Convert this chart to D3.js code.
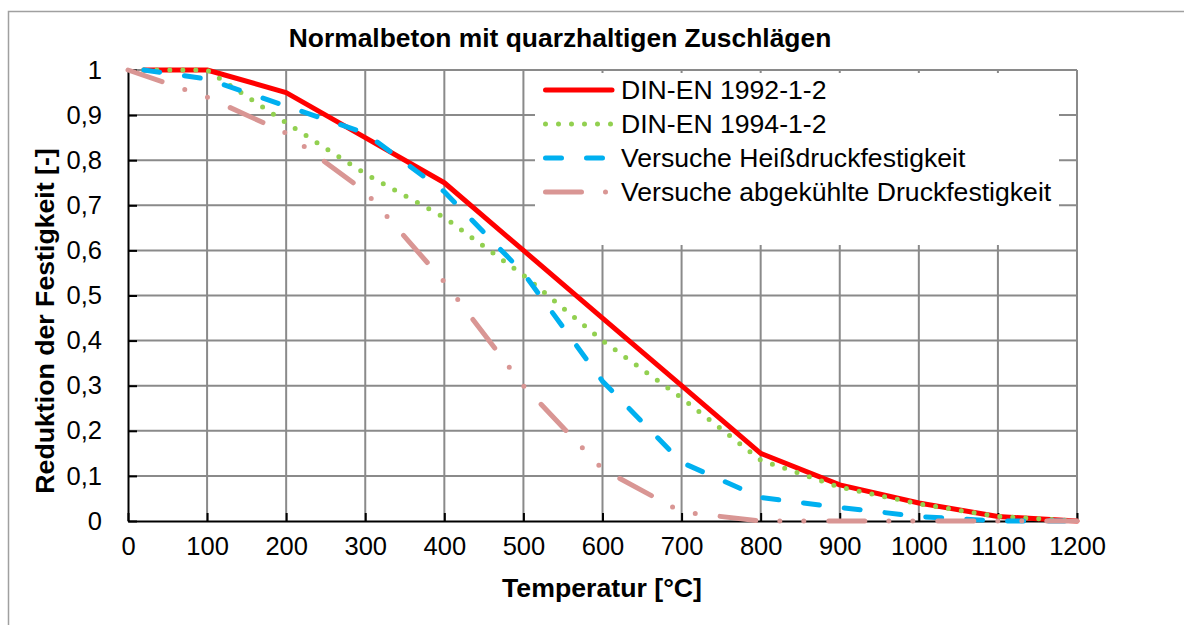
<!DOCTYPE html>
<html>
<head>
<meta charset="utf-8">
<script src="https://cdn.jsdelivr.net/npm/d3@7"></script>
<style>
  body { margin: 0; background: #fff; }
  svg { display: block; }
  text { font-family: "Liberation Sans", Arial, sans-serif; fill: #000; }
</style>
</head>
<body>
<svg id="chart" width="1184" height="625"></svg>
<script>
// ---- data ----
const chartTitle = "Normalbeton mit quarzhaltigen Zuschlägen";
const xTitle = "Temperatur [°C]";
const yTitle = "Reduktion der Festigkeit [-]";
const xTicks = [0,100,200,300,400,500,600,700,800,900,1000,1100,1200];
const yTicks = [0,0.1,0.2,0.3,0.4,0.5,0.6,0.7,0.8,0.9,1];
const yTickLabels = ["0","0,1","0,2","0,3","0,4","0,5","0,6","0,7","0,8","0,9","1"];

const seriesNames = ["DIN-EN 1992-1-2","DIN-EN 1994-1-2","Versuche Heißdruckfestigkeit","Versuche abgekühlte Druckfestigkeit"];
const tempsEN = [20,100,200,300,400,500,600,700,800,900,1000,1100,1200];
const tempsTest = [0,100,200,300,400,500,600,700,800,900,1000,1100,1200];
const din1992 = [1,1,0.95,0.85,0.75,0.60,0.45,0.30,0.15,0.08,0.04,0.01,0];
const din1994 = [1,1,0.883,0.77,0.673,0.545,0.40,0.273,0.135,0.075,0.038,0.01,0];
const hotTest = [1,0.98,0.92,0.86,0.73,0.55,0.31,0.13,0.052,0.03,0.01,0,0];
const cooledTest = [1,0.94,0.86,0.73,0.53,0.30,0.115,0.02,0,0,0,0,0];

const seriesColors = ["#ff0000","#92d050","#00b0f0","#d99694"];
const seriesDash = [null, "0 13", "16 25", "36 24 0 24 0 25"];

// ---- layout ----
const svg = d3.select("#chart");
const X0 = 128, X1 = 1077, Y0 = 521, Y1 = 70;
const x = d3.scaleLinear().domain([0,1200]).range([X0,X1]);
const y = d3.scaleLinear().domain([0,1]).range([Y0,Y1]);

// outer border
svg.append("path").attr("d", "M8.5,640 L8.5,11.5 L1200,11.5")
  .attr("fill","none").attr("stroke","#a0a0a0").attr("stroke-width",1.5);

// title
svg.append("text").attr("x",560).attr("y",47).attr("text-anchor","middle")
  .style("font-size","26.4px").style("font-weight","bold").text(chartTitle);

// gridlines
const grid = svg.append("g");
grid.selectAll(".vg").data(xTicks.filter(d=>d>0)).enter().append("line")
  .attr("x1",d=>x(d)).attr("x2",d=>x(d)).attr("y1",Y1).attr("y2",Y0)
  .attr("stroke","#8a8a8a").attr("stroke-width",2);
grid.selectAll(".hg").data(yTicks.filter(d=>d>0)).enter().append("line")
  .attr("x1",X0).attr("x2",X1).attr("y1",d=>y(d)).attr("y2",d=>y(d))
  .attr("stroke","#8a8a8a").attr("stroke-width",2);

// axes
const yAxis = d3.axisLeft(y).tickValues(yTicks).tickSizeInner(-9).tickSizeOuter(0)
  .tickFormat((d,i)=>yTickLabels[i]).tickPadding(26);
const gy = svg.append("g").attr("transform",`translate(${X0},0)`).call(yAxis);
gy.select(".domain").attr("stroke","#000").attr("stroke-width",2);
gy.selectAll(".tick line").attr("stroke","#000").attr("stroke-width",2);
gy.selectAll(".tick text").style("font-size","25.5px").attr("font-family",null);

const xAxis = d3.axisBottom(x).tickValues(xTicks).tickSizeInner(-8).tickSizeOuter(0)
  .tickFormat(d3.format("d")).tickPadding(16);
const gx = svg.append("g").attr("transform",`translate(0,${Y0})`).call(xAxis);
gx.select(".domain").attr("stroke","#000").attr("stroke-width",2);
gx.selectAll(".tick line").attr("stroke","#000").attr("stroke-width",2);
gx.selectAll(".tick text").style("font-size","25.5px").attr("font-family",null);

// axis titles
svg.append("text").attr("x",602).attr("y",597).attr("text-anchor","middle")
  .style("font-size","26.7px").style("font-weight","bold").text(xTitle);
svg.append("text").attr("transform","translate(54,321) rotate(-90)")
  .attr("text-anchor","middle").style("font-size","26.7px").style("font-weight","bold").text(yTitle);

// legend background
svg.append("rect").attr("x",535).attr("y",73).attr("width",524).attr("height",172).attr("fill","#fff");

// series
const allSeries = [
  {t: tempsEN, v: din1992},
  {t: tempsEN, v: din1994},
  {t: tempsEN, v: hotTest},
  {t: tempsTest, v: cooledTest}
];
const line = d3.line().x(d=>x(d[0])).y(d=>y(d[1]));
allSeries.forEach((s,i)=>{
  const pts = s.t.map((t,j)=>[t,s.v[j]]);
  svg.append("path").datum(pts).attr("d",line)
    .attr("fill","none").attr("stroke",seriesColors[i]).attr("stroke-width",5)
    .attr("stroke-linecap","round").attr("stroke-linejoin","round")
    .attr("stroke-dasharray",seriesDash[i]);
});

// legend
const legY = [90,124,158,192];
seriesNames.forEach((n,i)=>{
  svg.append("line").attr("x1",545.5).attr("x2",612).attr("y1",legY[i]).attr("y2",legY[i])
    .attr("stroke",seriesColors[i]).attr("stroke-width",5).attr("stroke-linecap","round")
    .attr("stroke-dasharray",seriesDash[i]);
  svg.append("text").attr("x",621).attr("y",legY[i]).attr("dy","0.35em")
    .style("font-size","26.6px").text(n);
});
</script>
</body>
</html>
